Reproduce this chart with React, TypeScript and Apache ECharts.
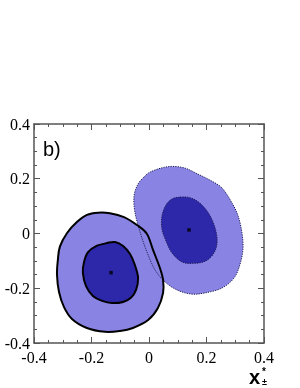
import React, { useEffect, useRef } from "react";
import * as echarts from "echarts";

const xTicks = [-0.4, -0.2, 0, 0.2, 0.4];
const yTicks = [-0.4, -0.2, 0, 0.2, 0.4];

// Contour outlines: [x, y]
const leftOuter: number[][] = [
  [-0.136, 0.074], [-0.177, 0.076], [-0.216, 0.068], [-0.25, 0.043], [-0.285, 0.002],
  [-0.31, -0.048], [-0.317, -0.097], [-0.32, -0.151], [-0.313, -0.214], [-0.296, -0.268],
  [-0.268, -0.312], [-0.216, -0.345], [-0.153, -0.359], [-0.101, -0.356], [-0.056, -0.345],
  [-0.003, -0.316], [0.031, -0.272], [0.049, -0.217], [0.049, -0.17], [0.038, -0.126],
  [0.014, -0.06], [-0.007, -0.002], [-0.042, 0.031], [-0.087, 0.06],
];
const leftInner: number[][] = [
  [-0.146, -0.035], [-0.118, -0.031], [-0.09, -0.046], [-0.066, -0.075], [-0.049, -0.115],
  [-0.038, -0.162], [-0.045, -0.206], [-0.063, -0.235], [-0.09, -0.25], [-0.129, -0.254],
  [-0.163, -0.246], [-0.195, -0.228], [-0.219, -0.192], [-0.23, -0.144], [-0.226, -0.104],
  [-0.212, -0.068], [-0.184, -0.046],
];
const rightOuter: number[][] = [
  [0.003, 0.224], [0.042, 0.239], [0.08, 0.245], [0.125, 0.239], [0.17, 0.217],
  [0.212, 0.195], [0.254, 0.166], [0.289, 0.111], [0.31, 0.064], [0.323, 0.005],
  [0.327, -0.053], [0.317, -0.111], [0.296, -0.162], [0.254, -0.199], [0.195, -0.217],
  [0.146, -0.221], [0.097, -0.206], [0.056, -0.177], [0.021, -0.133], [-0.007, -0.068],
  [-0.031, 0.005], [-0.049, 0.078], [-0.052, 0.137], [-0.038, 0.181], [-0.014, 0.21],
];
const rightInner: number[][] = [
  [0.108, 0.133], [0.143, 0.131], [0.177, 0.111], [0.209, 0.071], [0.23, 0.02],
  [0.237, -0.031], [0.226, -0.071], [0.198, -0.1], [0.157, -0.109], [0.115, -0.104],
  [0.08, -0.071], [0.059, -0.027], [0.045, 0.016], [0.045, 0.064], [0.059, 0.104],
  [0.08, 0.126],
];
const centers: number[][] = [
  [-0.132, -0.143],
  [0.139, 0.013],
];

const LIGHT = "#8984e4";
const DARK = "#2d27a9";

// closed Catmull-Rom curve through pixel points, as an SVG path
function closedSpline(pts: number[][]): string {
  const n = pts.length;
  let d = `M${pts[0][0]},${pts[0][1]}`;
  for (let i = 0; i < n; i++) {
    const p0 = pts[(i - 1 + n) % n];
    const p1 = pts[i];
    const p2 = pts[(i + 1) % n];
    const p3 = pts[(i + 2) % n];
    const c1x = p1[0] + (p2[0] - p0[0]) / 6;
    const c1y = p1[1] + (p2[1] - p0[1]) / 6;
    const c2x = p2[0] - (p3[0] - p1[0]) / 6;
    const c2y = p2[1] - (p3[1] - p1[1]) / 6;
    d += `C${c1x},${c1y},${c2x},${c2y},${p2[0]},${p2[1]}`;
  }
  return d + "Z";
}

function contourSeries(points: number[][], fill: string | null, stroke: string | null, dashed: boolean, width: number, z: number) {
  return {
    type: "custom",
    coordinateSystem: "cartesian2d",
    z,
    silent: true,
    data: points,
    renderItem: (params: any, api: any) => {
      if (params.dataIndex !== 0) return null;
      const pts = points.map((p) => api.coord(p));
      return {
        type: "path",
        shape: { pathData: closedSpline(pts) },
        style: {
          fill: fill || "none",
          stroke: stroke || "none",
          lineWidth: width,
          lineDash: dashed ? [1.2, 1.2] : null,
        },
      };
    },
  };
}

export default function App() {
  const ref = useRef<HTMLDivElement>(null);
  useEffect(() => {
    if (!ref.current) return;
    const chart = echarts.init(ref.current, null, { renderer: "svg" });
    const axisCommon = {
      type: "value",
      min: -0.4,
      max: 0.4,
      interval: 0.2,
      axisLine: { show: true, onZero: false, lineStyle: { color: "#555", width: 1.5 } },
      axisTick: { show: true, inside: true, length: 6, lineStyle: { color: "#555", width: 1 } },
      minorTick: { show: true, splitNumber: 4, length: 3, lineStyle: { color: "#555", width: 1 } },
      splitLine: { show: false },
    };
    const labelStyle = {
      fontFamily: "Liberation Serif",
      fontSize: 16,
      color: "#000",
    };
    chart.setOption({
      animation: false,
      grid: { left: 34, top: 124, width: 230, height: 219, containLabel: false },
      xAxis: [
        {
          ...axisCommon,
          position: "bottom",
          axisLabel: { ...labelStyle, margin: 6, formatter: (v: number) => String(xTicks.find((t) => Math.abs(t - v) < 1e-9) ?? v) },
        },
        { ...axisCommon, position: "top", axisLabel: { show: false } },
      ],
      yAxis: [
        {
          ...axisCommon,
          position: "left",
          axisLabel: { ...labelStyle, margin: 4, formatter: (v: number) => String(yTicks.find((t) => Math.abs(t - v) < 1e-9) ?? v) },
        },
        { ...axisCommon, position: "right", axisLabel: { show: false } },
      ],
      series: [
        contourSeries(rightOuter, LIGHT, null, false, 0, 1),
        contourSeries(leftOuter, LIGHT, null, false, 0, 2),
        contourSeries(leftInner, DARK, null, false, 0, 3),
        contourSeries(rightInner, DARK, null, false, 0, 3),
        contourSeries(rightOuter, null, "#1a1a50", true, 1, 4),
        contourSeries(rightInner, null, "#1a1a50", true, 1, 4),
        contourSeries(leftOuter, null, "#000", false, 2, 5),
        contourSeries(leftInner, null, "#000", false, 2, 5),
        {
          type: "scatter",
          data: centers,
          symbol: "rect",
          symbolSize: 3.5,
          itemStyle: { color: "#000" },
          z: 6,
          silent: true,
        },
      ],
      graphic: [
        {
          type: "text",
          x: 43,
          y: 149,
          style: { text: "b)", font: "20px 'Liberation Sans'", fill: "#000", verticalAlign: "middle" },
        },
        {
          type: "text",
          x: 249,
          y: 377,
          style: { text: "x", font: "bold 20px 'Liberation Sans'", fill: "#000", verticalAlign: "middle" },
        },
        {
          type: "text",
          x: 262,
          y: 371,
          style: { text: "*", font: "bold 10px 'Liberation Sans'", fill: "#000", verticalAlign: "middle" },
        },
        {
          type: "text",
          x: 262,
          y: 382,
          style: { text: "±", font: "bold 9px 'Liberation Sans'", fill: "#000", verticalAlign: "middle" },
        },
      ],
    });
    return () => chart.dispose();
  }, []);
  return (
    <div
      ref={ref}
      style={{ position: "fixed", left: 0, top: 0, width: 300, height: 388 }}
    />
  );
}
